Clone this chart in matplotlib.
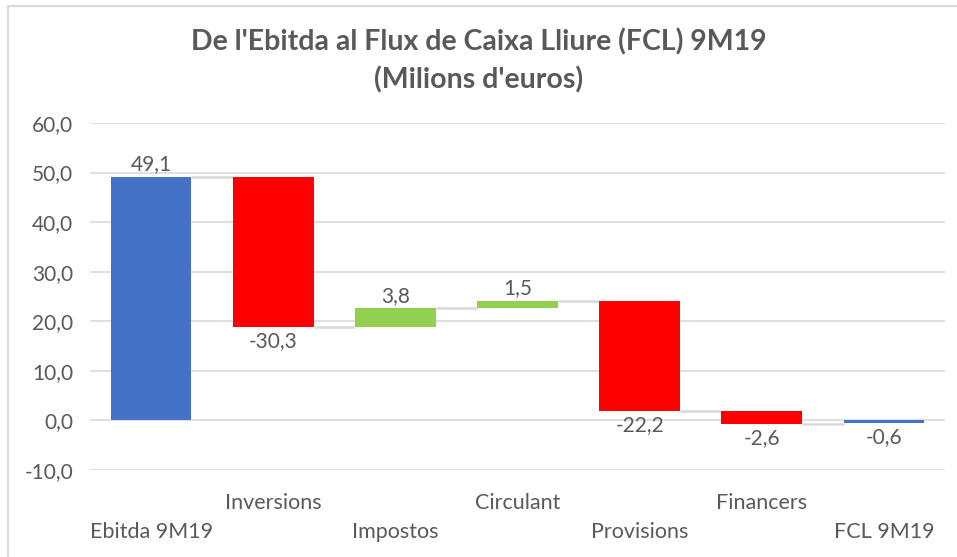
import matplotlib
matplotlib.use("Agg")
import matplotlib.pyplot as plt
from matplotlib.patches import Rectangle

categories = ["Ebitda 9M19", "Inversions", "Impostos", "Circulant", "Provisions", "Financers", "FCL 9M19"]
values = [49.1, -30.3, 3.8, 1.5, -22.2, -2.6, -0.6]
is_total = [True, False, False, False, False, False, True]
yticks = [-10, 0, 10, 20, 30, 40, 50, 60]

BLUE = "#4472C4"; RED = "#FF0000"; GREEN = "#92D050"; GREY_T = "#595959"

plt.rcParams['font.family'] = ['Lato', 'DejaVu Sans']

fig = plt.figure(figsize=(9.57, 5.57), dpi=100)
ax = fig.add_axes([90/957, 1-470/557, 855/957, (470-123)/557])

bottoms, tops, colors = [], [], []
run = 0.0
for v, tot in zip(values, is_total):
    if tot:
        b, t = 0.0, v
        run = v
    else:
        b, t = run, run + v
        run = run + v
    bottoms.append(min(b, t)); tops.append(max(b, t))
    colors.append(BLUE if tot else (GREEN if v > 0 else RED))

w = 0.66
x = list(range(len(categories)))
ax.bar(x, [t - b for b, t in zip(bottoms, tops)], bottom=bottoms, width=w,
       color=colors, edgecolor="none", zorder=3)

# connectors
run = 0.0
levels = []
for v, tot in zip(values, is_total):
    run = v if tot else run + v
    levels.append(run)
for i in range(len(values) - 1):
    lv = levels[i]
    ax.plot([i + w/2, i + 1 - w/2], [lv, lv], color="#d9d9d9", lw=1.8, zorder=2,
            solid_capstyle="butt")

# data labels
for i, v in enumerate(values):
    lab = f"{v:.1f}".replace(".", ",")
    if v > 0:
        ax.text(i, tops[i] + 0.5, lab, ha="center", va="bottom", fontsize=15, color=GREY_T)
    else:
        ax.text(i, bottoms[i] - 0.8, lab, ha="center", va="top", fontsize=15, color=GREY_T)

ax.set_xlim(-0.5, len(categories) - 0.5)
ax.set_ylim(-10, 60)
ax.set_yticks(yticks)
ax.set_yticklabels([f"{t:.1f}".replace(".", ",") for t in yticks], fontsize=15, color=GREY_T)
ax.yaxis.grid(True, color="#d9d9d9", lw=1.2, zorder=0)
ax.set_axisbelow(True)
for s in ax.spines.values():
    s.set_visible(False)
ax.tick_params(axis="y", length=0, pad=12)
ax.tick_params(axis="x", length=0)
ax.set_xticks([])

for i, c in enumerate(categories):
    yy = -16.6 if i % 2 == 1 else -22.6
    ax.text(i, yy, c, ha="center", va="center", fontsize=15.5, color=GREY_T, clip_on=False)

fig.text(0.5, 1-42/557, "De l'Ebitda al Flux de Caixa Lliure (FCL) 9M19",
         ha="center", va="center", fontsize=20.5, fontweight="bold", color=GREY_T)
fig.text(0.5, 1-80/557, "(Milions d'euros)",
         ha="center", va="center", fontsize=20.5, fontweight="bold", color=GREY_T)

# chart border (top and left visible)
fig.patches.append(Rectangle((8/957, -0.1), 1.2, 1 - 6/557 + 0.1, transform=fig.transFigure,
                             fill=False, edgecolor="#d9d9d9", lw=1.5))

fig.savefig("out.png", dpi=100)
